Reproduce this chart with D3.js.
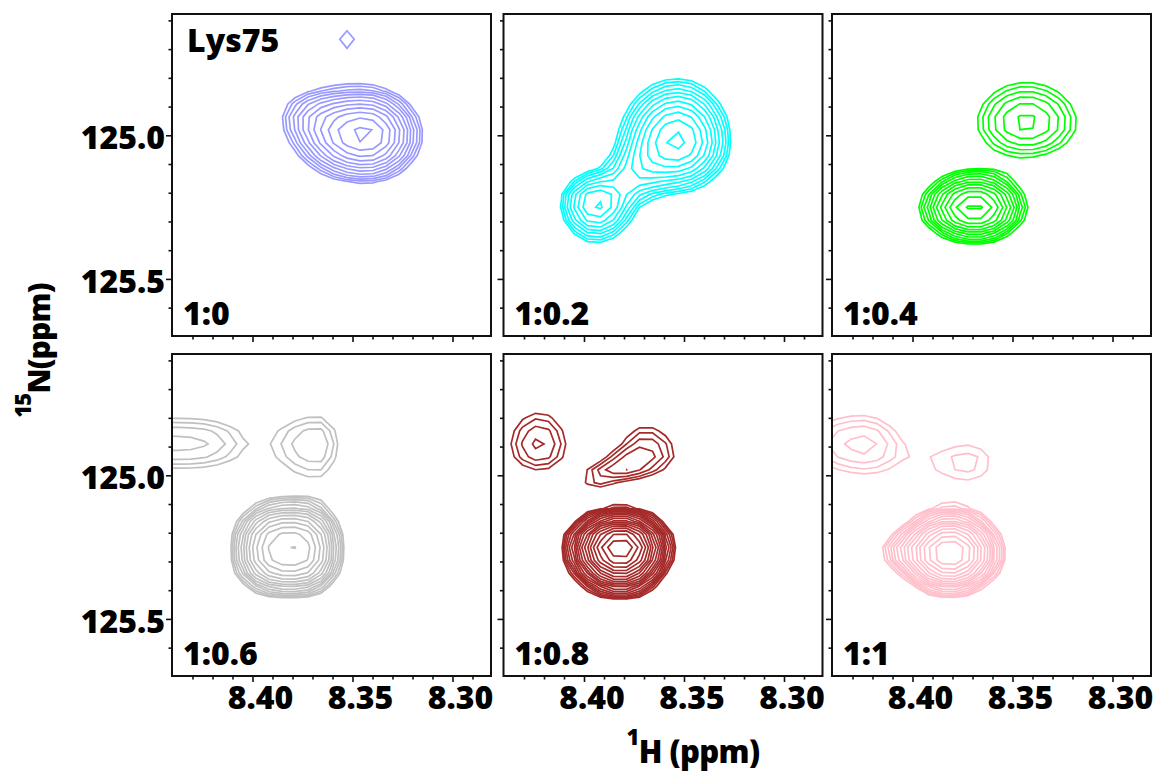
<!DOCTYPE html>
<html>
<head>
<meta charset="utf-8">
<script src="https://cdn.jsdelivr.net/npm/d3@7"></script>
<style>
  body { margin: 0; background: #fff; }
  text { font-family: "Open Sans", "Noto Sans", sans-serif; font-weight: 800; fill: #000; }
</style>
</head>
<body>
<svg id="chart" width="1164" height="772"></svg>
<script>
// ---- data -------------------------------------------------------------
const residueName = "Lys75";
const titrationLabels = ["1:0", "1:0.2", "1:0.4", "1:0.6", "1:0.8", "1:1"];
const panelColors = ["#9999ff", "#00ffff", "#00ff00", "#c0c0c0", "#a52a2a", "#ffc0cb"];

// spectral window shown in every panel (ppm)
const hWindow = [8.4405, 8.281];
const nWindow = [124.576, 125.697];
const hMajorTicks = [8.40, 8.35, 8.30];
const nMajorTicks = [125.0, 125.5];

// contour levels: geometric series above the noise floor
const baseLevel = 1, levelFactor = 1.2, levelCount = 26;

// cross peaks of each HSQC spectrum:
// h, n = peak position (ppm); a = height (in units of the lowest contour);
// sx = line widths toward [higher 1H, lower 1H]; sy = toward [lower 15N, higher 15N]
const peaks_1_0 = [
  { h: 8.3440, n: 124.997, a: 7.85, sx: [0.0177, 0.0140], sy: [0.0840, 0.0823] },
  { h: 8.3705, n: 124.924, a: 1.30, sx: [0.0120, 0.0120], sy: [0.060, 0.060] },
  { h: 8.3530, n: 124.664, a: 1.19, sx: [0.0078, 0.0078], sy: [0.060, 0.060] }
];
const peaks_1_02 = [
  { h: 8.3535, n: 125.021, a: 6.54, sx: [0.0150, 0.0137], sy: [0.1127, 0.0898] },
  { h: 8.3944, n: 125.233, a: 4.54, sx: [0.0101, 0.0110], sy: [0.059, 0.078] },
  { h: 8.3745, n: 125.133, a: 1.80, sx: [0.0100, 0.0100], sy: [0.060, 0.060] }
];
const peaks_1_04 = [
  { h: 8.3434, n: 124.955, a: 2.63, sx: [0.0175, 0.0180], sy: [0.100, 0.085] },
  { h: 8.3692, n: 125.252, a: 7.85, sx: [0.0135, 0.0128], sy: [0.065, 0.060] }
];
const peaks_1_06 = [
  { h: 8.4470, n: 124.887, a: 1.89, sx: [0.0361, 0.0361], sy: [0.0768, 0.0768], p: [4, 2] },
  { h: 8.3679, n: 124.889, a: 1.76, sx: [0.0199, 0.0095], sy: [0.089, 0.1056] },
  { h: 8.3812, n: 125.258, a: 10.8, sx: [0.0162, 0.0142], sy: [0.0910, 0.0856], p: [2.6, 2.4] }
];
const peaks_1_08 = [
  { h: 8.4227, n: 124.896, a: 1.826, sx: [0.0128, 0.0120], sy: [0.1038, 0.0762] },
  { h: 8.3694, n: 124.928, a: 1.826, sx: [0.0110, 0.0128], sy: [0.0889, 0.0572] },
  { h: 8.3830, n: 124.975, a: 1.35, sx: [0.0080, 0.0080], sy: [0.035, 0.035] },
  { h: 8.3950, n: 125.012, a: 1.12, sx: [0.0070, 0.0070], sy: [0.035, 0.035] },
  { h: 8.3819, n: 125.247, a: 32.5, sx: [0.0110, 0.0100], sy: [0.0528, 0.0694] }
];
const peaks_1_1 = [
  { h: 8.4255, n: 124.889, a: 1.826, sx: [0.0250, 0.0149], sy: [0.0889, 0.0889] },
  { h: 8.3720, n: 124.952, a: 1.315, sx: [0.0223, 0.0142], sy: [0.080, 0.0847] },
  { h: 8.3817, n: 125.270, a: 16.3, sx: [0.0112, 0.0116], sy: [0.0679, 0.0634] },
  { h: 8.4055, n: 125.262, a: 1.60, sx: [0.0080, 0.0080], sy: [0.045, 0.045] }
];
const spectraPeaks = [peaks_1_0, peaks_1_02, peaks_1_04, peaks_1_06, peaks_1_08, peaks_1_1];

// ---- layout -----------------------------------------------------------
const panelX = [172, 503.5, 832];
const panelY = [14, 354];
const panelW = 319, panelH = 322;

const svg = d3.select("#chart");

const x = d3.scaleLinear().domain(hWindow).range([0, panelW]);
const y = d3.scaleLinear().domain(nWindow).range([0, panelH]);

const hStep = 0.0065, nStep = 0.045;
const hGrid = d3.range(8.47, 8.25, -hStep);
const nGrid = d3.range(124.484, 125.78, nStep);
const nx = hGrid.length, ny = nGrid.length;
const gx = d3.scaleLinear().domain([0.5, nx - 0.5]).range([hGrid[0], hGrid[nx - 1]]);
const gy = d3.scaleLinear().domain([0.5, ny - 0.5]).range([nGrid[0], nGrid[ny - 1]]);

function intensity(peaks, h, n) {
  let v = 0;
  for (const pk of peaks) {
    const [px, py] = pk.p || [2, 2];
    const u = (h - pk.h) / (h > pk.h ? pk.sx[0] : pk.sx[1]);
    const w = (n - pk.n) / (n < pk.n ? pk.sy[0] : pk.sy[1]);
    v += pk.a * Math.exp(-0.5 * (Math.pow(Math.abs(u), px) + Math.pow(Math.abs(w), py)));
  }
  return v;
}

const levels = d3.range(levelCount).map(k => baseLevel * Math.pow(levelFactor, k));
const contourGen = d3.contours().size([nx, ny]).thresholds(levels);
const toPanel = d3.geoTransform({
  point(px, py) { this.stream.point(x(gx(px)), y(gy(py))); }
});
const path = d3.geoPath(toPanel);

spectraPeaks.forEach((peaks, idx) => {
  const col = idx % 3, row = Math.floor(idx / 3);
  const g = svg.append("g").attr("transform", `translate(${panelX[col]},${panelY[row]})`);

  const clipId = `clip-${idx}`;
  g.append("clipPath").attr("id", clipId)
    .append("rect").attr("width", panelW).attr("height", panelH);

  const values = new Float64Array(nx * ny);
  for (let j = 0; j < ny; j++)
    for (let i = 0; i < nx; i++)
      values[j * nx + i] = intensity(peaks, hGrid[i], nGrid[j]);

  g.append("g").attr("clip-path", `url(#${clipId})`)
    .selectAll("path")
    .data(contourGen(values))
    .join("path")
    .attr("d", path)
    .attr("fill", "none")
    .attr("stroke", panelColors[idx])
    .attr("stroke-width", 1.7)
    .attr("stroke-linejoin", "miter");

  // frame
  g.append("rect")
    .attr("width", panelW).attr("height", panelH)
    .attr("fill", "none").attr("stroke", "#111").attr("stroke-width", 2);

  // 15N ticks on the left edge
  const nTicks = y.ticks(10);
  g.selectAll(".ytick").data(nTicks).join("line")
    .attr("x1", 0)
    .attr("x2", d => nMajorTicks.some(m => Math.abs(m - d) < 1e-6) ? -6 : -3.5)
    .attr("y1", d => y(d)).attr("y2", d => y(d))
    .attr("stroke", "#111").attr("stroke-width", 1.6);

  // 1H ticks on the bottom edge
  const hTicks = x.ticks(16).filter(d => x(d) > 4 && x(d) < panelW - 4);
  g.selectAll(".xtick").data(hTicks).join("line")
    .attr("x1", d => x(d)).attr("x2", d => x(d))
    .attr("y1", panelH)
    .attr("y2", d => panelH + (hMajorTicks.some(m => Math.abs(m - d) < 1e-6) ? 6 : 3.5))
    .attr("stroke", "#111").attr("stroke-width", 1.6);

  if (col === 0) {
    g.selectAll(".ylab").data(nMajorTicks).join("text")
      .attr("x", -7).attr("y", d => y(d)).attr("dy", 13.3)
      .attr("text-anchor", "end").attr("font-size", 32)
      .text(d => d3.format(".1f")(d));
  }
  if (row === 1) {
    g.selectAll(".xlab").data(hMajorTicks).join("text")
      .attr("x", d => x(d)).attr("dx", 7.5).attr("y", panelH + 33)
      .attr("text-anchor", "middle").attr("font-size", 32)
      .text(d => d3.format(".2f")(d));
  }

  g.append("text")
    .attr("x", 11).attr("y", panelH - 11)
    .attr("font-size", 32)
    .text(titrationLabels[idx]);

  if (idx === 0) {
    g.append("text").attr("x", 15).attr("y", 37.7)
      .attr("font-size", 32).text(residueName);
  }
});

// axis titles with isotope superscripts
const xTitle = svg.append("text")
  .attr("x", 693).attr("y", 763)
  .attr("text-anchor", "middle").attr("font-size", 31)
  .attr("letter-spacing", -0.6);
xTitle.append("tspan").attr("font-size", 22).attr("dy", -18).text("1");
xTitle.append("tspan").attr("dy", 18).text("H (ppm)");

const yTitle = svg.append("text")
  .attr("transform", "translate(50,350.5) rotate(-90)")
  .attr("text-anchor", "middle").attr("font-size", 30)
  .attr("letter-spacing", -0.8);
yTitle.append("tspan").attr("font-size", 22).attr("dy", -19).text("15");
yTitle.append("tspan").attr("dy", 19).text("N(ppm)");
</script>
</body>
</html>
